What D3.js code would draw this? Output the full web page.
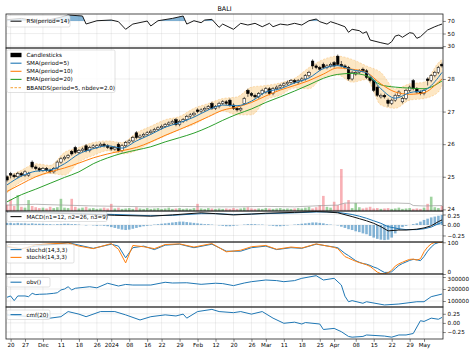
<!DOCTYPE html>
<html><head><meta charset="utf-8">
<script src="https://cdn.jsdelivr.net/npm/d3@7"></script>
<style>
body{margin:0;background:#fff}
svg{display:block}
text{font-family:"DejaVu Sans",sans-serif;fill:#000}
</style>
</head><body>
<svg id="chart" width="474" height="355"></svg>
<script>
const title = "BALI";
const N = 122;
const open = [
25.00,25.10,25.05,25.00,25.10,25.05,25.05,25.45,25.30,25.25,
25.20,25.25,25.20,25.15,25.25,25.45,25.55,25.60,25.78,25.90,
25.75,25.80,25.95,25.80,25.90,25.90,25.95,26.00,25.95,25.90,
25.85,26.00,25.80,25.95,26.05,26.10,26.35,26.20,26.25,26.30,
26.35,26.40,26.45,26.50,26.55,26.60,26.65,26.75,26.60,26.70,
26.75,26.85,26.90,27.05,27.00,27.05,27.10,27.25,27.10,27.15,
27.25,27.30,27.35,27.20,27.10,27.05,27.25,27.65,27.55,27.50,
27.45,27.55,27.60,27.70,27.55,27.70,27.75,27.80,27.85,27.90,
27.95,27.90,27.95,28.00,28.10,28.55,28.40,28.35,28.45,28.35,
28.40,28.50,28.70,28.45,28.40,28.35,28.00,28.15,28.20,28.30,
28.25,28.05,27.95,27.75,27.45,27.50,27.35,27.25,27.35,27.50,
27.30,27.40,27.65,27.95,27.70,27.60,27.55,28.00,27.95,28.10,
28.20,28.45];
const close = [
24.90,25.05,25.00,25.10,25.05,25.15,25.10,25.30,25.25,25.20,
25.25,25.20,25.15,25.25,25.45,25.55,25.60,25.65,25.70,25.75,
25.80,25.85,25.80,25.90,25.95,25.95,26.00,25.95,25.90,25.85,
25.90,25.80,25.95,26.05,26.10,26.20,26.20,26.25,26.30,26.35,
26.40,26.45,26.50,26.55,26.60,26.65,26.70,26.60,26.70,26.75,
26.85,26.90,26.95,27.00,27.05,27.10,27.15,27.10,27.15,27.25,
27.30,27.25,27.20,27.10,27.05,27.10,27.40,27.55,27.50,27.45,
27.55,27.65,27.70,27.55,27.70,27.75,27.80,27.85,27.90,27.95,
27.90,27.95,28.00,28.10,28.20,28.40,28.35,28.30,28.35,28.40,
28.45,28.40,28.45,28.40,28.35,28.00,28.20,28.20,28.25,28.25,
28.05,27.95,27.65,27.50,27.50,27.45,27.25,27.35,27.50,27.60,
27.40,27.65,27.75,27.70,27.60,27.55,27.65,27.95,28.10,28.20,
28.35,28.40];
const high = [
25.05,25.15,25.10,25.15,25.15,25.20,25.15,25.50,25.35,25.30,
25.30,25.30,25.25,25.30,25.50,25.60,25.65,25.70,25.82,25.95,
25.85,25.90,26.00,25.95,26.00,26.00,26.05,26.05,26.00,25.95,
25.95,26.05,26.00,26.10,26.15,26.25,26.40,26.30,26.35,26.40,
26.45,26.50,26.55,26.60,26.65,26.70,26.75,26.80,26.75,26.80,
26.90,26.95,27.00,27.10,27.10,27.15,27.20,27.30,27.20,27.30,
27.35,27.35,27.40,27.25,27.15,27.15,27.45,27.70,27.60,27.55,
27.60,27.70,27.75,27.75,27.75,27.80,27.85,27.90,27.95,28.00,
28.00,28.00,28.05,28.15,28.25,28.60,28.45,28.40,28.50,28.45,
28.50,28.55,28.75,28.55,28.45,28.40,28.25,28.25,28.30,28.35,
28.30,28.10,28.00,27.80,27.55,27.55,27.40,27.40,27.55,27.65,
27.45,27.70,27.80,28.00,27.75,27.65,27.70,28.05,28.15,28.25,
28.40,28.50];
const low = [
24.85,24.95,24.95,24.95,25.00,25.00,25.00,25.25,25.20,25.15,
25.15,25.15,25.10,25.10,25.20,25.40,25.50,25.55,25.65,25.70,
25.70,25.75,25.75,25.75,25.85,25.85,25.90,25.90,25.85,25.80,
25.80,25.75,25.75,25.90,26.00,26.05,26.15,26.15,26.20,26.25,
26.30,26.35,26.40,26.45,26.50,26.55,26.60,26.55,26.55,26.65,
26.70,26.80,26.85,26.95,26.95,27.00,27.05,27.05,27.05,27.10,
27.20,27.20,27.15,27.05,27.00,27.00,27.20,27.45,27.45,27.40,
27.40,27.50,27.55,27.50,27.50,27.65,27.70,27.75,27.80,27.85,
27.85,27.85,27.90,27.95,28.05,28.30,28.30,28.25,28.30,28.30,
28.35,28.35,28.40,28.35,28.30,27.95,27.95,28.10,28.15,28.20,
28.00,27.90,27.60,27.45,27.40,27.40,27.15,27.20,27.30,27.45,
27.25,27.35,27.60,27.65,27.55,27.50,27.50,27.80,27.90,28.05,
28.15,28.35];
const volume = [
15,28,12,38,10,8,26,12,9,7,
8,6,10,7,9,29,8,7,29,10,
6,8,10,6,7,5,6,8,6,17,
6,8,5,6,7,5,9,6,5,7,
5,6,7,5,6,8,5,6,7,5,
6,5,7,17,6,5,7,6,5,6,
5,6,5,7,5,6,8,9,6,5,
6,5,7,6,5,6,7,5,6,5,
6,7,6,8,10,6,9,14,36,10,
8,22,14,100,18,26,7,19,9,6,
8,10,6,7,5,6,7,5,6,8,
5,6,7,5,6,5,8,17,34,9,
7,12];

// overlay lines read at sampled days
const lineIdx = [0,4,8,12,16,20,24,28,32,36,40,44,48,52,56,60,64,68,72,76,80,84,88,92,96,100,104,108,112,116,120,121];
const sma5  = [24.75,25.02,25.17,25.21,25.40,25.70,25.86,25.95,25.88,26.10,26.30,26.52,26.66,26.83,27.05,27.20,27.18,27.32,27.60,27.70,27.88,28.03,28.32,28.41,28.28,28.19,27.70,27.41,27.58,27.65,28.05,28.20];
const sma10 = [24.55,24.78,25.00,25.15,25.27,25.42,25.58,25.70,25.80,25.90,26.07,26.27,26.45,26.64,26.84,27.04,27.14,27.28,27.48,27.66,27.80,27.95,28.15,28.34,28.30,28.20,27.85,27.60,27.53,27.58,27.90,28.00];
const ema20 = [24.23,24.45,24.62,24.80,24.98,25.15,25.40,25.58,25.72,25.82,25.92,26.07,26.20,26.34,26.52,26.73,26.92,27.08,27.28,27.45,27.63,27.82,28.02,28.14,28.17,28.10,27.82,27.75,27.72,27.70,27.87,27.94];
const bbUpper = [25.00,25.20,25.40,25.35,25.75,25.90,26.05,26.10,26.05,26.35,26.55,26.75,26.85,27.10,27.25,27.40,27.45,27.75,27.80,27.88,28.02,28.35,28.60,28.70,28.60,28.40,28.20,27.70,27.85,27.90,28.50,28.60];
const bbLower = [24.50,24.85,25.00,25.10,25.05,25.45,25.65,25.80,25.70,25.80,26.05,26.25,26.45,26.60,26.85,27.02,26.90,26.90,27.35,27.50,27.72,27.70,28.05,28.12,27.90,27.98,27.20,27.10,27.35,27.40,27.60,27.80];
const volMaIdx = [0,8,16,24,32,40,48,56,64,72,80,88,92,94,100,108,112,113,116,121];
const volMa = [14,16,14,12,11,10,11,10,10,11,10,13,14,19,19,19,18,13,12,13];

const rsiIdx = [0,4,8,12,15,17,21,22,25,29,31,33,35,39,40,42,46,49,50,52,54,55,57,59,60,63,65,67,69,71,73,74,76,78,80,82,84,86,87,89,90,92,94,95,96,98,99,100,101,104,106,107,108,109,110,112,113,114,115,117,119,120,121];
const rsi = [72,74,70,72,76,79.4,77.8,65.1,70.3,71.4,68.8,56.7,65,69.8,62,70.3,74,77.8,65,70.3,67.2,71.4,72.5,59.8,65,56.7,66.2,63.5,66.2,60.8,66.2,60.8,65,63.5,66.2,63.5,70.3,73,68.8,65,68.8,65,60.8,51.9,56.7,54.5,50.3,52.9,39.7,35.4,32.9,37,46,47.6,44,51.3,50.3,42.4,44.9,55.6,60.8,63,65];

const macdIdx = [0,10,21,30,40,46,54,58,63,68,72,80,86,89,92,96,98,100,102,104,106,109,111,114,116,118,120,121];
const macd = [0.31,0.29,0.26,0.23,0.21,0.24,0.29,0.27,0.24,0.26,0.28,0.30,0.32,0.31,0.29,0.20,0.15,0.10,0.04,-0.04,-0.14,-0.12,-0.12,-0.10,-0.07,-0.02,0.08,0.12];
const macdSignal = [0.30,0.30,0.27,0.25,0.22,0.23,0.27,0.27,0.25,0.26,0.27,0.29,0.31,0.31,0.30,0.25,0.21,0.16,0.10,0.04,-0.04,-0.09,-0.11,-0.11,-0.09,-0.05,0.03,0.06];
const macdHist = [
0.05,0.05,0.04,0.05,0.04,0.04,0.03,0.04,0.03,0.03,
0.03,0.02,0.02,0.01,0.02,0.02,0.03,0.03,0.02,0.02,
0.01,0.0,-0.01,0.0,-0.01,-0.02,-0.01,-0.02,-0.03,-0.05,
-0.07,-0.09,-0.11,-0.12,-0.11,-0.09,-0.07,-0.05,-0.03,-0.02,
-0.01,0.01,0.02,0.03,0.04,0.05,0.06,0.07,0.08,0.08,
0.07,0.06,0.05,0.04,0.03,0.02,0.02,0.01,0.0,-0.01,
-0.02,-0.03,-0.03,-0.02,-0.01,0.0,0.01,0.02,0.02,0.02,
0.01,0.01,0.0,-0.01,-0.02,-0.03,-0.03,-0.02,-0.01,0.0,
0.01,0.02,0.03,0.04,0.05,0.06,0.06,0.05,0.04,0.02,
0.01,0.0,-0.01,-0.04,-0.07,-0.10,-0.12,-0.15,-0.17,-0.20,
-0.22,-0.26,-0.30,-0.33,-0.35,-0.36,-0.35,-0.30,-0.20,-0.12,
-0.05,-0.02,0.0,0.02,0.04,0.08,0.12,0.15,0.18,0.20,
0.22,0.24];

const stochIdx = [0,4,8,12,17,20,24,29,31,33,35,38,41,44,48,52,57,61,65,68,72,75,79,82,86,91,92,94,95,96,97,98,99,100,101,102,103,104,105,106,107,108,109,110,111,112,113,114,115,116,117,118,119,120,121];
const stochd = [85,80,88,92,99,91,81,94,88,51,83,88,77,91,94,83,94,72,72,83,88,77,83,81,94,85,83,65,58,50,42,37,33,31,27,22,18,11,5,5,7,17,27,33,38,43,46,45,42,55,72,85,95,99,100];
const stochk = [88,78,92,95,98,88,80,96,78,35,90,86,80,93,95,85,96,70,75,86,90,78,85,82,95,84,80,55,50,45,40,36,33,29,24,15,6,1,1,4,12,25,32,37,42,46,47,44,48,70,85,95,100,100,100];

const obvIdx = [0,1,2,3,5,6,7,8,9,11,13,14,15,16,17,18,19,23,25,28,31,33,35,40,44,46,50,54,58,60,63,66,68,72,75,77,80,82,84,86,88,91,93,94,95,96,99,100,105,109,114,116,118,121];
const obv = [131000,142000,103000,142000,142000,136000,164000,153000,156000,158000,164000,169000,192000,200000,219000,192000,206000,219000,210000,248000,225000,238000,233000,233000,256000,250000,252000,239000,248000,245000,228000,250000,261000,275000,270000,261000,270000,289000,300000,311000,275000,289000,233000,140000,94000,103000,81000,94000,67000,75000,94000,94000,136000,158000];

const cmfIdx = [0,12,15,17,20,22,26,30,33,37,40,44,47,49,50,53,57,59,63,65,68,71,74,77,80,82,83,87,88,91,93,95,96,99,100,105,107,109,111,113,115,116,118,120,121];
const cmf = [0.22,0.13,0.17,0.31,0.24,0.17,0.31,0.31,0.22,0.08,0.17,0.22,0.19,0.24,0.13,0.31,0.37,0.31,0.28,0.31,0.24,0.31,0.13,-0.01,0.02,-0.03,0.01,-0.03,-0.18,-0.15,-0.24,-0.37,-0.39,-0.37,-0.33,-0.36,-0.39,-0.33,-0.33,-0.29,0.06,0.04,0.13,0.10,0.15];

const xTickIdx = [1,5,10,15,20,25,29,34,39,43,48,53,58,63,68,72,77,82,87,91,97,102,107,112,116];
const xTickLabels = ["20","27","Dec","11","18","26","2024","08","16","22","29","Feb","12","20","26","Mar","11","18","25","Apr","08","15","22","29","May"];

// ---------- layout ----------
const svg = d3.select("#chart");
const X0 = 6, X1 = 443;
const FS = 5.6;
const P = {rsi:[14,48], main:[48,211], macd:[211,242], stoch:[242,274], obv:[274,307], cmf:[307,339]};
const x = d3.scaleLinear().domain([0, N-1]).range([7, 442]);
const yR = d3.scaleLinear().domain([27, 81]).range([48, 14]);
const yP = d3.scaleLinear().domain([23.95, 28.95]).range([211, 48]);
const yV = d3.scaleLinear().domain([0, 388]).range([211, 48]);
const yM = d3.scaleLinear().domain([-0.405, 0.333]).range([242, 211]);
const yS = d3.scaleLinear().domain([0, 100]).range([274, 242.3]);
const yO = d3.scaleLinear().domain([50000, 325000]).range([307, 274]);
const yC = d3.scaleLinear().domain([-0.44, 0.435]).range([339, 307]);

const defs = svg.append("defs");
function panel(name, yScale, ticks, fmt, nudge) {
  const [t, b] = P[name];
  defs.append("clipPath").attr("id", "clip-" + name)
    .append("rect").attr("x", X0).attr("y", t).attr("width", X1 - X0).attr("height", b - t);
  const g = svg.append("g");
  const grid = g.append("g").attr("stroke", "#b0b0b0").attr("stroke-opacity", 0.35).attr("stroke-width", 0.6);
  grid.selectAll("line.v").data(xTickIdx).join("line").attr("class", "v")
    .attr("x1", d => x(d)).attr("x2", d => x(d)).attr("y1", t).attr("y2", b);
  grid.selectAll("line.h").data(ticks).join("line").attr("class", "h")
    .attr("x1", X0).attr("x2", X1).attr("y1", d => yScale(d)).attr("y2", d => yScale(d));
  const plot = g.append("g").attr("clip-path", `url(#clip-${name})`);
  const ax = svg.append("g").attr("transform", `translate(${X1},0)`)
    .call(d3.axisRight(yScale).tickValues(ticks).tickFormat(fmt).tickSize(2.8).tickPadding(1.8));
  ax.select(".domain").remove();
  ax.selectAll("text").attr("font-size", FS).attr("font-family", "DejaVu Sans").attr("fill", "#000")
    .attr("transform", d => (nudge && nudge[d]) ? `translate(0,${nudge[d]})` : null);
  ax.selectAll("line").attr("stroke", "#333").attr("stroke-width", 0.6);
  return {plot, t, b};
}

// title
svg.append("text").attr("x", (X0 + X1) / 2).attr("y", 9).attr("text-anchor", "middle")
  .attr("dy", "0.35em").attr("font-size", 6.4).text(title);

// ---------- RSI ----------
const pr = panel("rsi", yR, [30, 50, 70], d3.format("d"));
const rsiPts = rsiIdx.map((d, i) => [d, rsi[i]]);
defs.append("clipPath").attr("id", "clip-rsi-ob").append("rect")
  .attr("x", X0).attr("y", P.rsi[0]).attr("width", X1 - X0).attr("height", yR(70) - P.rsi[0]);
pr.plot.append("path").datum(rsiPts).attr("clip-path", "url(#clip-rsi-ob)")
  .attr("fill", "#1f77b4").attr("fill-opacity", 0.55)
  .attr("d", d3.area().x(d => x(d[0])).y0(yR(70)).y1(d => yR(d[1])));
pr.plot.append("path").datum(rsiPts).attr("fill", "none").attr("stroke", "#1a1a1a").attr("stroke-width", 1)
  .attr("d", d3.line().x(d => x(d[0])).y(d => yR(d[1])));

// ---------- MAIN ----------
const pm = panel("main", yP, [24, 25, 26, 27, 28], d3.format("d"), {24: -1});
const bw = 2.6;
// Bollinger band
const bbPts = lineIdx.map((d, i) => ({i: d, u: bbUpper[i], l: bbLower[i]}));
pm.plot.append("path").datum(bbPts).attr("fill", "#f9b54c").attr("fill-opacity", 0.33)
  .attr("d", d3.area().curve(d3.curveMonotoneX).x(d => x(d.i)).y0(d => yP(d.l)).y1(d => yP(d.u)));
["u", "l"].forEach(k => {
  pm.plot.append("path").datum(bbPts).attr("fill", "none").attr("stroke", "#f5a742").attr("stroke-opacity", 0.6)
    .attr("stroke-width", 0.6).attr("stroke-dasharray", "2,1.5")
    .attr("d", d3.line().curve(d3.curveMonotoneX).x(d => x(d.i)).y(d => yP(d[k])));
});
// volume
const idx = d3.range(N);
pm.plot.append("g").selectAll("rect").data(idx).join("rect")
  .attr("x", i => x(i) - bw / 2).attr("width", bw)
  .attr("y", i => yV(volume[i])).attr("height", i => yV(0) - yV(volume[i]))
  .attr("fill", i => close[i] >= open[i] ? "#2ca02c" : "#f0505c")
  .attr("fill-opacity", 0.45);
pm.plot.append("path").datum(volMaIdx.map((d, i) => [d, volMa[i]])).attr("fill", "none")
  .attr("stroke", "#999").attr("stroke-width", 0.7)
  .attr("d", d3.line().x(d => x(d[0])).y(d => yV(d[1])));
// candles
const cg = pm.plot.append("g");
cg.selectAll("line").data(idx).join("line")
  .attr("x1", i => x(i)).attr("x2", i => x(i)).attr("y1", i => yP(high[i])).attr("y2", i => yP(low[i]))
  .attr("stroke", "#000").attr("stroke-width", 0.6);
cg.selectAll("rect").data(idx).join("rect")
  .attr("x", i => x(i) - bw / 2).attr("width", bw)
  .attr("y", i => yP(Math.max(open[i], close[i])))
  .attr("height", i => Math.max(0.6, Math.abs(yP(open[i]) - yP(close[i]))))
  .attr("fill", i => close[i] >= open[i] ? "#fff" : "#000")
  .attr("stroke", "#000").attr("stroke-width", 0.5);
// moving averages
[[ema20, "#2ca02c"], [sma10, "#ff7f0e"], [sma5, "#1f77b4"]].forEach(([arr, col]) => {
  pm.plot.append("path").datum(lineIdx.map((d, i) => [d, arr[i]])).attr("fill", "none")
    .attr("stroke", col).attr("stroke-width", 1)
    .attr("d", d3.line().curve(d3.curveMonotoneX).x(d => x(d[0])).y(d => yP(d[1])));
});

// ---------- MACD ----------
const pmc = panel("macd", yM, [-0.25, 0, 0.25], d3.format(".2f"), {0.25: 1});
pmc.plot.append("g").selectAll("rect").data(idx).join("rect")
  .attr("x", i => x(i) - bw / 2).attr("width", bw)
  .attr("y", i => yM(Math.max(0, macdHist[i])))
  .attr("height", i => Math.abs(yM(macdHist[i]) - yM(0)))
  .attr("fill", "#1f77b4").attr("fill-opacity", 0.55);
[[macdSignal, "#1f77b4"], [macd, "#111"]].forEach(([arr, col]) => {
  pmc.plot.append("path").datum(macdIdx.map((d, i) => [d, arr[i]])).attr("fill", "none")
    .attr("stroke", col).attr("stroke-width", 1)
    .attr("d", d3.line().x(d => x(d[0])).y(d => yM(d[1])));
});

// ---------- STOCH ----------
const ps = panel("stoch", yS, [0, 100], d3.format("d"), {0: -1.8});
[[stochd, "#1f77b4"], [stochk, "#ff7f0e"]].forEach(([arr, col]) => {
  ps.plot.append("path").datum(stochIdx.map((d, i) => [d, arr[i]])).attr("fill", "none")
    .attr("stroke", col).attr("stroke-width", 1)
    .attr("d", d3.line().x(d => x(d[0])).y(d => yS(d[1])));
});

// ---------- OBV ----------
const po = panel("obv", yO, [100000, 200000, 300000], d3.format("d"), {300000: 2});
po.plot.append("path").datum(obvIdx.map((d, i) => [d, obv[i]])).attr("fill", "none")
  .attr("stroke", "#1f77b4").attr("stroke-width", 1)
  .attr("d", d3.line().x(d => x(d[0])).y(d => yO(d[1])));

// ---------- CMF ----------
const pc = panel("cmf", yC, [-0.25, 0, 0.25], d3.format(".2f"));
pc.plot.append("path").datum(cmfIdx.map((d, i) => [d, cmf[i]])).attr("fill", "none")
  .attr("stroke", "#1f77b4").attr("stroke-width", 1)
  .attr("d", d3.line().x(d => x(d[0])).y(d => yC(d[1])));

// x axis
const xa = svg.append("g").attr("transform", `translate(0,${P.cmf[1]})`)
  .call(d3.axisBottom(x).tickValues(xTickIdx).tickFormat((d, i) => xTickLabels[i]).tickSize(2.8).tickPadding(1.5));
xa.select(".domain").remove();
xa.selectAll("text").attr("font-size", FS).attr("font-family", "DejaVu Sans").attr("fill", "#000");
xa.selectAll("line").attr("stroke", "#333").attr("stroke-width", 0.6);

// panel borders
Object.values(P).forEach(([t, b]) => {
  svg.append("rect").attr("x", X0).attr("y", t).attr("width", X1 - X0).attr("height", b - t)
    .attr("fill", "none").attr("stroke", "#222").attr("stroke-width", 0.8);
});

// ---------- legends ----------
function legend(x0, y0, w, h, items) {
  const g = svg.append("g");
  g.append("rect").attr("x", x0).attr("y", y0).attr("width", w).attr("height", h).attr("rx", 1.5)
    .attr("fill", "#fff").attr("fill-opacity", 0.8).attr("stroke", "#ccc").attr("stroke-width", 0.6);
  items.forEach(it => {
    if (it.kind === "rect") {
      g.append("rect").attr("x", x0 + 3.5).attr("y", it.y - 2.2).attr("width", 11).attr("height", 4.4).attr("fill", it.color);
    } else {
      g.append("line").attr("x1", x0 + 3.5).attr("x2", x0 + 14.5).attr("y1", it.y).attr("y2", it.y)
        .attr("stroke", it.color).attr("stroke-width", 1.1).attr("stroke-dasharray", it.dash || null);
    }
    g.append("text").attr("x", x0 + 19.5).attr("y", it.y).attr("dy", "0.35em").attr("font-size", FS).text(it.label);
  });
}
legend(7, 15.5, 63, 11.5, [{color: "#1a1a1a", label: "RSI(period=14)", y: 21.2}]);
legend(7, 50, 108, 42.5, [
  {kind: "rect", color: "#000", label: "Candlesticks", y: 55},
  {color: "#1f77b4", label: "SMA(period=5)", y: 63.2},
  {color: "#ff7f0e", label: "SMA(period=10)", y: 71.3},
  {color: "#2ca02c", label: "EMA(period=20)", y: 79.4},
  {color: "#f8b35a", dash: "2.5,1.5", label: "BBANDS(period=5, nbdev=2.0)", y: 87.6}
]);
legend(7, 212, 100, 9.5, [{color: "#111", label: "MACD(n1=12, n2=26, n3=9)", y: 216.6}]);
legend(7, 244.5, 67, 18.5, [
  {color: "#1f77b4", label: "stochd(14,3,3)", y: 249.6},
  {color: "#ff7f0e", label: "stochk(14,3,3)", y: 257.4}
]);
legend(7, 277.5, 43, 9.5, [{color: "#1f77b4", label: "obv()", y: 282.2}]);
legend(7, 310, 43, 9.5, [{color: "#1f77b4", label: "cmf(20)", y: 314.6}]);
</script>
</body></html>
